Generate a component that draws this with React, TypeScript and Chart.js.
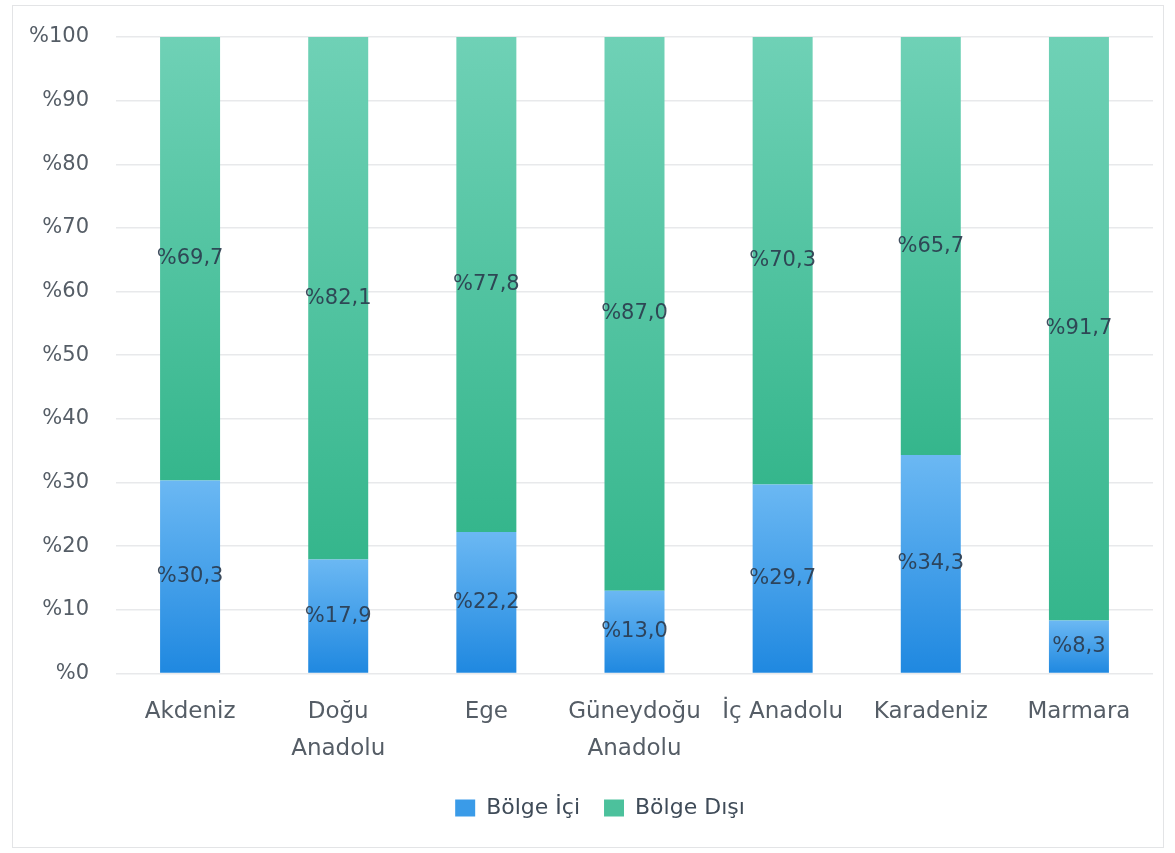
import React, { useEffect, useRef } from "react";
import { Chart, registerables } from "chart.js";

Chart.register(...registerables);

const categories: (string | string[])[] = [
  "Akdeniz",
  ["Doğu", "Anadolu"],
  "Ege",
  ["Güneydoğu", "Anadolu"],
  "İç Anadolu",
  "Karadeniz",
  "Marmara",
];
const bolgeIci = [30.3, 17.9, 22.2, 13.0, 29.7, 34.3, 8.3];
const bolgeDisi = [69.7, 82.1, 77.8, 87.0, 70.3, 65.7, 91.7];
const seriesNames = ["Bölge İçi", "Bölge Dışı"];
const yTicks = [0, 10, 20, 30, 40, 50, 60, 70, 80, 90, 100];

const FONT = "'DejaVu Sans', sans-serif";

const fmt = (v: number) => "%" + v.toFixed(1).replace(".", ",");

function segGradient(ctx: any, top: string, bottom: string, datasetIndex: number) {
  const chart = ctx.chart;
  const y = chart.scales && chart.scales.y;
  if (!y || ctx.type !== "data") return bottom;
  const i = ctx.dataIndex;
  const all = chart.data.datasets;
  let start = 0;
  for (let d = 0; d < datasetIndex; d++) start += all[d].data[i] as number;
  const end = start + (all[datasetIndex].data[i] as number);
  const y0 = y.getPixelForValue(start);
  const y1 = y.getPixelForValue(end);
  if (!isFinite(y0) || !isFinite(y1) || y0 === y1) return bottom;
  const g = chart.ctx.createLinearGradient(0, y1, 0, y0);
  g.addColorStop(0, top);
  g.addColorStop(1, bottom);
  return g;
}

const labelPlugin = {
  id: "segLabels",
  afterLayout(chart: any) {
    if (chart.legend) {
      chart.legend.left += 17;
      chart.legend.right += 17;
    }
  },
  afterDatasetsDraw(chart: any) {
    const c = chart.ctx;
    c.save();
    c.font = `21px ${FONT}`;
    c.fillStyle = "rgba(42,58,76,0.9)";
    c.textAlign = "center";
    c.textBaseline = "middle";
    chart.data.datasets.forEach((ds: any, di: number) => {
      const meta = chart.getDatasetMeta(di);
      meta.data.forEach((el: any, i: number) => {
        const v = ds.data[i] as number;
        c.fillText(fmt(v), el.x, (el.y + el.base) / 2);
      });
    });
    c.restore();
  },
};

export default function App() {
  const ref = useRef<HTMLCanvasElement | null>(null);
  useEffect(() => {
    if (!ref.current) return;
    const chart = new Chart(ref.current, {
      type: "bar",
      data: {
        labels: categories as any,
        datasets: [
          {
            label: seriesNames[0],
            data: bolgeIci,
            backgroundColor: (ctx: any) => segGradient(ctx, "#6bb8f3", "#1f88e0", 0),
            borderWidth: 0,
            categoryPercentage: 1,
            barPercentage: 0.405,
          },
          {
            label: seriesNames[1],
            data: bolgeDisi,
            backgroundColor: (ctx: any) => segGradient(ctx, "#6fd1b6", "#35b68c", 1),
            borderWidth: 0,
            categoryPercentage: 1,
            barPercentage: 0.405,
          },
        ],
      },
      options: {
        animation: false,
        responsive: false,
        maintainAspectRatio: false,
        layout: { padding: { left: 0, right: 10, top: 31, bottom: 18 } },
        plugins: {
          legend: {
            position: "bottom",
            labels: {
              font: { family: FONT, size: 22 },
              color: "#3f4b58",
              boxWidth: 20,
              boxHeight: 17,
              padding: 10,
              generateLabels: (chart: any) =>
                chart.data.datasets.map((ds: any, i: number) => ({
                  text: i === 0 ? ds.label + "  " : ds.label,
                  fillStyle: i === 0 ? "#3a9be8" : "#4cc19c",
                  strokeStyle: "transparent",
                  lineWidth: 0,
                  datasetIndex: i,
                  hidden: false,
                  fontColor: "#3f4b58",
                })),
            },
          },
          tooltip: { enabled: false },
        },
        scales: {
          x: {
            stacked: true,
            grid: { display: false, drawTicks: false },
            border: { display: false },
            afterFit: (axis: any) => {
              axis.paddingLeft = 0;
              axis.paddingRight = 0;
            },
            ticks: {
              font: { family: FONT, size: 23, lineHeight: 1.6 },
              color: "#555d66",
              padding: 20,
              maxRotation: 0,
              autoSkip: false,
            },
          },
          y: {
            stacked: true,
            min: 0,
            max: 100,
            afterBuildTicks: (axis: any) => {
              axis.ticks = yTicks.map((v) => ({ value: v }));
            },
            afterFit: (axis: any) => {
              axis.width = 103;
              axis.paddingTop = 0;
              axis.paddingBottom = 0;
            },
            grid: { color: "#e8e9eb", lineWidth: 1.5, drawTicks: false },
            border: { display: false },
            ticks: {
              font: { family: FONT, size: 21 },
              color: "#555d66",
              padding: 27,
              callback: (v: any) => "%" + v,
            },
          },
        },
      },
      plugins: [labelPlugin],
    });
    return () => chart.destroy();
  }, []);
  return (
    <div
      style={{
        position: "absolute",
        left: 12,
        top: 5,
        width: 1152,
        height: 843,
        border: "1px solid #e3e4e6",
        boxSizing: "border-box",
        background: "#fff",
      }}
    >
      <canvas ref={ref} width={1150} height={841} style={{ display: "block" }} />
    </div>
  );
}
